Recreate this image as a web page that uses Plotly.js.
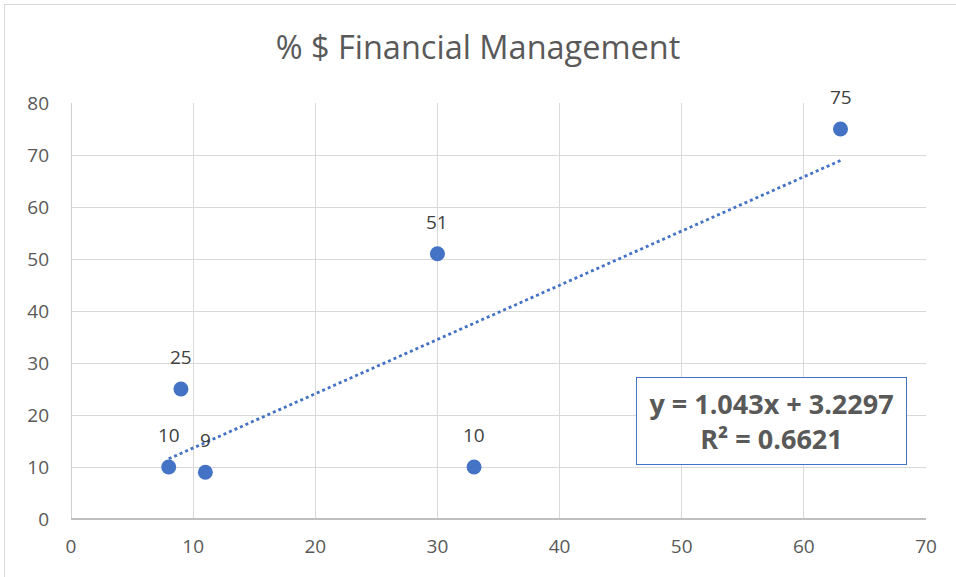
<!DOCTYPE html>
<html>
<head>
<meta charset="utf-8">
<script src="https://cdn.plot.ly/plotly-3.0.1.min.js"></script>
<style>
html,body{margin:0;padding:0;background:#fff;overflow:hidden;}
#frame{position:absolute;left:4px;top:4px;width:980px;height:600px;border:1px solid #d9d9d9;box-sizing:border-box;}
#chart{position:absolute;left:0;top:0;width:956px;height:577px;}
</style>
</head>
<body>
<div id="frame"></div>
<div id="chart"></div>
<script>
const xValues = [8, 9, 11, 30, 33, 63];
const yValues = [10, 25, 9, 51, 10, 75];
const pointLabels = ['10', '25', '9', '51', '10', '75'];
const xTicks = [0, 10, 20, 30, 40, 50, 60, 70];
const yTicks = [0, 10, 20, 30, 40, 50, 60, 70, 80];
const chartTitle = '% $ Financial Management';
const equationText = '<b>y = 1.043x + 3.2297</b><br><b>R² = 0.6621</b>';

// least-squares fit from the data
const n = xValues.length;
const mx = xValues.reduce((a,b)=>a+b,0)/n;
const my = yValues.reduce((a,b)=>a+b,0)/n;
let sxy=0, sxx=0;
for (let i=0;i<n;i++){ sxy += (xValues[i]-mx)*(yValues[i]-my); sxx += (xValues[i]-mx)**2; }
const slope = sxy/sxx, intercept = my - slope*mx;
const tx = [Math.min(...xValues), Math.max(...xValues)];
const ty = tx.map(v => slope*v + intercept);

const font = 'Open Sans, Noto Sans, sans-serif';
const grey = '#595959';
const blue = '#4472c4';

const traces = [
  {x: tx, y: ty, mode: 'lines', type: 'scatter', line: {color: blue, width: 2.8, dash: 'dot'}, hoverinfo: 'skip'},
  {x: xValues, y: yValues, mode: 'markers', type: 'scatter', marker: {color: blue, size: 15}}
];

const annotations = xValues.map((x,i) => ({
  x: x, y: yValues[i], text: pointLabels[i], showarrow: false, yshift: 32,
  font: {family: font, size: 19, color: '#404040'}
}));
annotations.push({
  x: 57.31, y: 18.94, text: equationText, showarrow: false,
  font: {family: font, size: 27, color: grey},
  bordercolor: blue, borderwidth: 1, bgcolor: '#fff', borderpad: 3, align: 'center',
  width: 263, height: 80
});

const layout = {
  width: 956, height: 577,
  margin: {l: 71, r: 30, t: 103, b: 58},
  paper_bgcolor: 'rgba(0,0,0,0)', plot_bgcolor: '#fff',
  showlegend: false,
  title: {text: chartTitle, font: {family: font, size: 32.5, color: grey}, x: 0.5, xanchor: 'center', y: 0.917, yanchor: 'middle'},
  xaxis: {range: [0, 70], tickvals: xTicks, ticktext: xTicks.map(String), showgrid: true, gridcolor: '#d9d9d9', gridwidth: 1,
          zeroline: true, zerolinecolor: '#d0d0d0', zerolinewidth: 1, showline: false, ticks: '', tickfont: {family: font, size: 19, color: grey}, ticklabelstandoff: 14, fixedrange: true},
  yaxis: {range: [0, 80], tickvals: yTicks, ticktext: yTicks.map(String), showgrid: true, gridcolor: '#d9d9d9', gridwidth: 1,
          zeroline: true, zerolinecolor: '#bfbfbf', zerolinewidth: 1.5, showline: false, ticks: '', tickfont: {family: font, size: 19, color: grey}, ticklabelstandoff: 21, fixedrange: true},
  annotations: annotations
};

Plotly.newPlot('chart', traces, layout, {staticPlot: true, displayModeBar: false});
</script>
</body>
</html>
